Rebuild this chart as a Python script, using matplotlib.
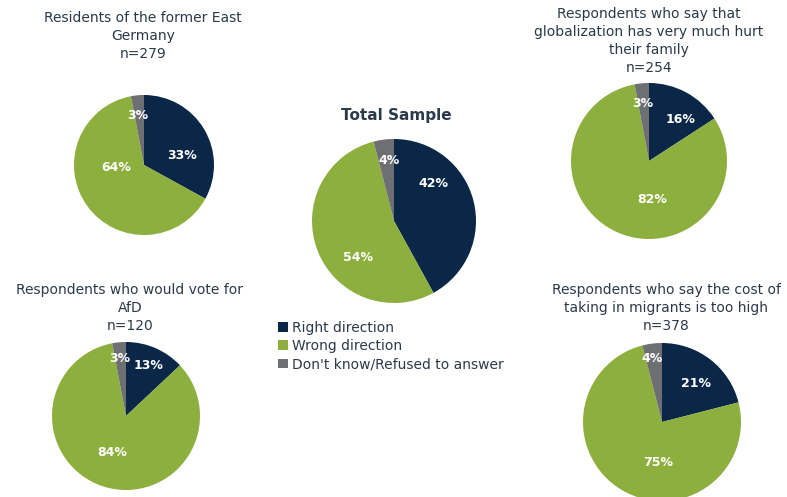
import matplotlib
matplotlib.use("Agg")
import matplotlib.pyplot as plt

# ── Data ──────────────────────────────────────────────────────────────────────

CATEGORIES = ["Right direction", "Wrong direction", "Don't know/Refused to answer"]

TITLES = [
    "Residents of the former East\nGermany\nn=279",
    "Total Sample",
    "Respondents who say that\nglobalization has very much hurt\ntheir family\nn=254",
    "Respondents who would vote for\nAfD\nn=120",
    "Respondents who say the cost of\ntaking in migrants is too high\nn=378",
]

EAST_GERMANY = [33, 64, 3]
TOTAL_SAMPLE = [42, 54, 4]
GLOBALIZATION_HURT = [16, 82, 3]
AFD_VOTERS = [13, 84, 3]
MIGRANT_COST = [21, 75, 4]

# ── Layout (pixel coords, origin bottom-left) ─────────────────────────────────

W, H = 787, 497
COLORS = ["#0B2748", "#8DAF3E", "#6E6F72"]
TEXT_COLOR = "#2B3A4A"

# (center x, center y, radius, title x, title top y)
PIES = [
    (EAST_GERMANY,       (144, H - 165), 70, 143, H - 11),
    (TOTAL_SAMPLE,       (394, H - 221), 82, 396, H - 108),
    (GLOBALIZATION_HURT, (649, H - 161), 78, 649, H - 7),
    (AFD_VOTERS,         (126, H - 416), 74, 130, H - 283),
    (MIGRANT_COST,       (662, H - 422), 79, 666, H - 283),
]

# label positions in units of the pie radius, one per slice
LABEL_POS = [
    [(0.54, 0.14), (-0.40, -0.03), (-0.09, 0.71)],
    [(0.48, 0.46), (-0.44, -0.44), (-0.06, 0.74)],
    [(0.40, 0.53), (0.04, -0.49), (-0.08, 0.74)],
    [(0.31, 0.68), (-0.18, -0.50), (-0.09, 0.78)],
    [(0.43, 0.49), (-0.05, -0.51), (-0.13, 0.80)],
]

fig = plt.figure(figsize=(W / 100, H / 100), dpi=100)
ax = fig.add_axes([0, 0, 1, 1])

legend_wedges = None
for i, ((vals, center, radius, tx, ty), title) in enumerate(zip(PIES, TITLES)):
    wedges, _ = ax.pie(vals, colors=COLORS, startangle=90, counterclock=False,
                       center=center, radius=radius, frame=True,
                       wedgeprops=dict(linewidth=0))
    for v, (lx, ly) in zip(vals, LABEL_POS[i]):
        ax.text(center[0] + lx * radius, center[1] + ly * radius, f"{v}%",
                ha="center", va="center", color="white", fontsize=9,
                fontweight="bold")
    if i == 1:
        legend_wedges = wedges
        ax.text(tx, ty, title, ha="center", va="top", color=TEXT_COLOR,
                fontsize=11, fontweight="bold")
    else:
        ax.text(tx, ty, title, ha="center", va="top", color=TEXT_COLOR,
                fontsize=10, linespacing=1.35)

ax.legend(legend_wedges, CATEGORIES, loc="upper left",
          bbox_to_anchor=(278 / W, 1 - 321 / H), bbox_transform=fig.transFigure,
          frameon=False, fontsize=10, handlelength=0.7, handleheight=0.7,
          handletextpad=0.3, labelspacing=0.3, borderpad=0, borderaxespad=0,
          labelcolor=TEXT_COLOR)

ax.set_xlim(0, W)
ax.set_ylim(0, H)
ax.set_aspect("equal")
ax.axis("off")

fig.savefig("out.png", dpi=100, facecolor="white")
